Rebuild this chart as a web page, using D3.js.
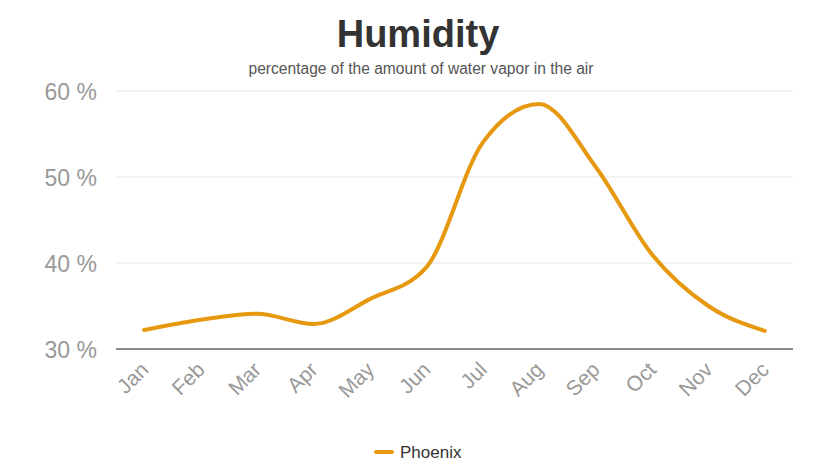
<!DOCTYPE html>
<html>
<head>
<meta charset="utf-8">
<script src="https://cdn.jsdelivr.net/npm/d3@7"></script>
<style>
  body { margin: 0; background: #fff; }
  text { font-family: "Liberation Sans", Arial, sans-serif; }
</style>
</head>
<body>
<script>
var months = ['Jan','Feb','Mar','Apr','May','Jun','Jul','Aug','Sep','Oct','Nov','Dec'];
var phoenix = [32.2, 33.4, 34.1, 32.9, 35.8, 39.5, 54.0, 58.5, 51.2, 41.0, 35.0, 32.1];
var yTicks = [30, 40, 50, 60];

var w = 813, h = 465;
var mLeft = 116, mRight = 793, mTop = 91, mBottom = 349;

var svg = d3.select('body').append('svg')
    .attr('width', w)
    .attr('height', h);

svg.append('rect').attr('width', w).attr('height', h).attr('fill', 'white');

var x = d3.scalePoint().domain(months).range([mLeft, mRight]).padding(0.5);
var y = d3.scaleLinear().domain([30, 60]).range([mBottom, mTop]);

// title
svg.append('text')
   .attr('x', 418).attr('y', 47)
   .attr('text-anchor', 'middle')
   .attr('font-size', 38).attr('font-weight', 'bold')
   .attr('fill', '#333')
   .text('Humidity');

svg.append('text')
   .attr('x', 421).attr('y', 74)
   .attr('text-anchor', 'middle')
   .attr('font-size', 15.6)
   .attr('fill', '#555')
   .text('percentage of the amount of water vapor in the air');

// grid
svg.append('g')
   .selectAll('line')
   .data(yTicks.filter(function(d){ return d > 30; }))
   .enter().append('line')
   .attr('x1', mLeft).attr('x2', mRight)
   .attr('y1', function(d){ return y(d); })
   .attr('y2', function(d){ return y(d); })
   .attr('stroke', '#e6e6e6').attr('stroke-width', 1);

// y labels
var yAxis = d3.axisLeft(y).tickValues(yTicks).tickSize(0).tickPadding(19)
    .tickFormat(function(d){ return d + ' %'; });
var gy = svg.append('g').attr('transform', 'translate(' + mLeft + ',0)').call(yAxis);
gy.select('.domain').remove();
gy.selectAll('text')
  .attr('font-size', 23)
  .attr('fill', '#999')
  .attr('dy', '0.35em')
  .style('font-family', '"Liberation Sans", Arial, sans-serif');

// x axis
var xAxis = d3.axisBottom(x).tickSize(0).tickPadding(0);
var gx = svg.append('g').attr('transform', 'translate(0,' + mBottom + ')').call(xAxis);
gx.select('.domain')
  .attr('d', 'M' + mLeft + ',0H' + mRight)
  .attr('stroke', '#666').attr('stroke-width', 1.5);
gx.selectAll('text')
  .attr('font-size', 21)
  .attr('fill', '#999')
  .attr('text-anchor', 'end')
  .attr('dy', 0)
  .attr('transform', 'translate(5,22) rotate(-45)')
  .style('font-family', '"Liberation Sans", Arial, sans-serif');

// line
var line = d3.line()
    .x(function(d, i){ return x(months[i]); })
    .y(function(d){ return y(d); })
    .curve(d3.curveMonotoneX);

svg.append('path')
   .datum(phoenix)
   .attr('d', line)
   .attr('fill', 'none')
   .attr('stroke', '#e6980f')
   .attr('stroke-width', 4)
   .attr('stroke-linecap', 'round')
   .attr('stroke-linejoin', 'round');

// legend
var lg = svg.append('g').attr('transform', 'translate(376,452)');
lg.append('line')
  .attr('x1', 0).attr('x2', 16).attr('y1', 0).attr('y2', 0)
  .attr('stroke', '#e6980f').attr('stroke-width', 4)
  .attr('stroke-linecap', 'round');
lg.append('text')
  .attr('x', 24).attr('y', 6)
  .attr('font-size', 17)
  .attr('fill', '#333')
  .text('Phoenix');
</script>
</body>
</html>
